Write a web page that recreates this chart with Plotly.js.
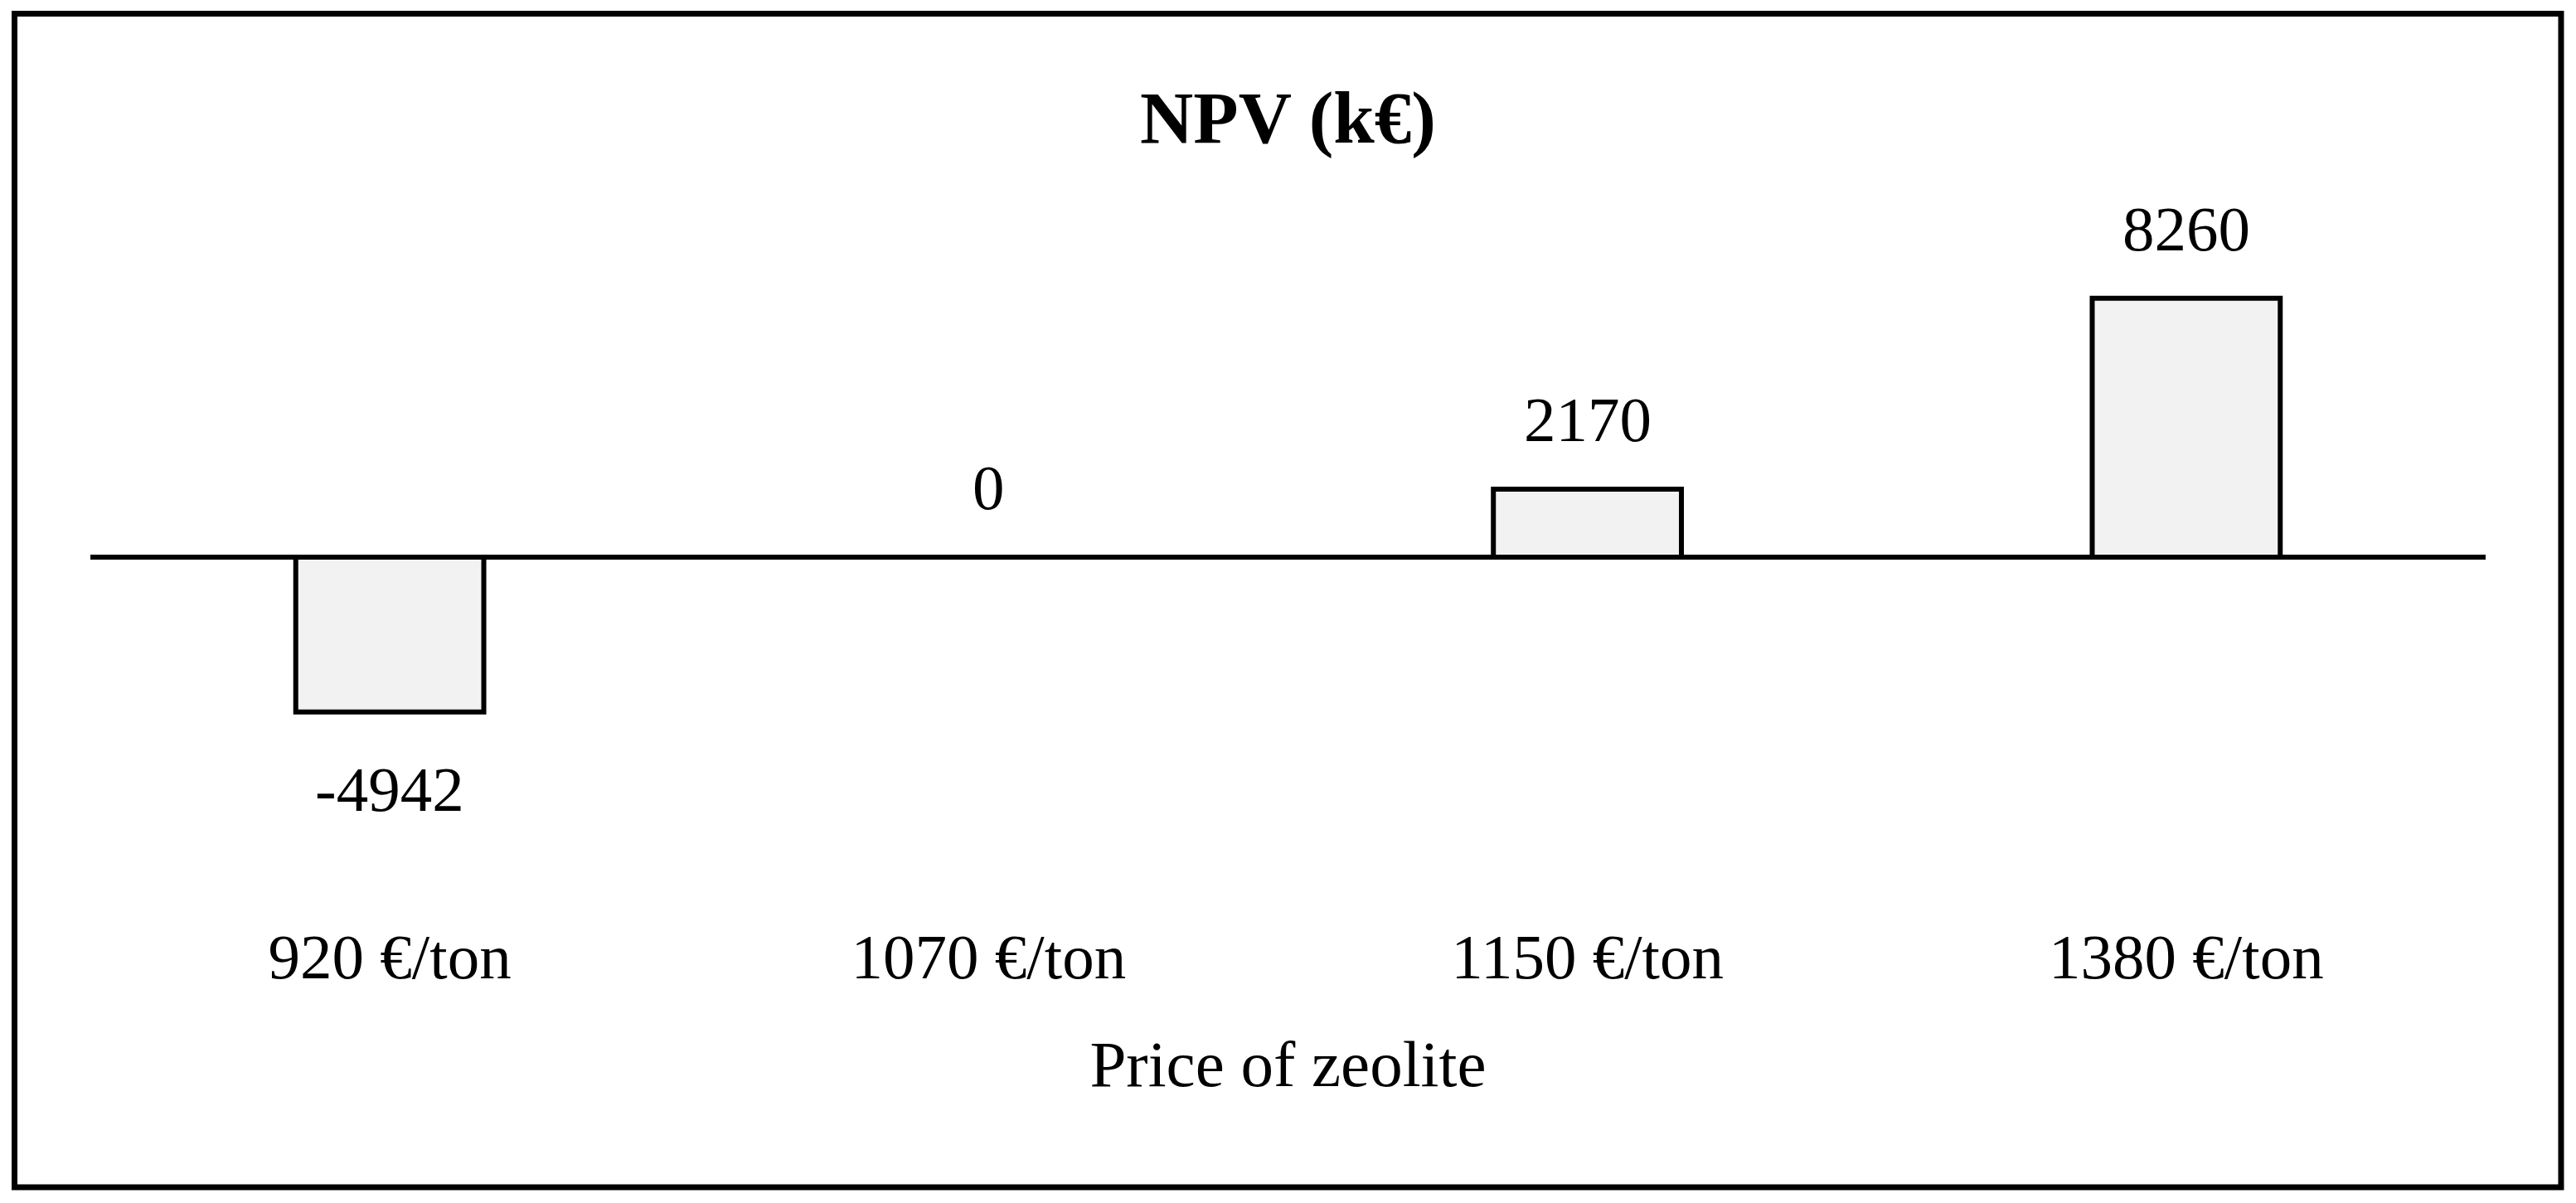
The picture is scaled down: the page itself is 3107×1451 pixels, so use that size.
<!DOCTYPE html>
<html>
<head>
<meta charset="utf-8">
<script src="https://cdn.plot.ly/plotly-3.0.1.min.js"></script>
<style>
  html, body { margin: 0; padding: 0; background: #ffffff; }
  #chart { width: 3107px; height: 1451px; }
</style>
</head>
<body>
<div id="chart"></div>
<script>
// Data
const categories = ["920 €/ton", "1070 €/ton", "1150 €/ton", "1380 €/ton"];
const npvValues = [-4942, 0, 2170, 8260];
const valueLabels = ["-4942", "0", "2170", "8260"];
const chartTitle = "NPV (k€)";
const xAxisTitle = "Price of zeolite";

const W = 3107, H = 1451;
const margin = { l: 109, r: 109, t: 200, b: 349 };
const plotW = W - margin.l - margin.r;
const plotH = H - margin.t - margin.b;

// frame in pixel coords -> paper coords
function px2paperX(px) { return (px - margin.l) / plotW; }
function px2paperY(py) { return (H - margin.b - py) / plotH; }

const serif = "Liberation Serif, Times New Roman, serif";

const trace = {
  type: "bar",
  x: categories,
  y: npvValues,
  width: 0.314,
  marker: { color: "#f2f2f2", line: { color: "#000000", width: 6 } },
  hoverinfo: "skip"
};

const annotations = categories.map((c, i) => ({
  x: c,
  y: npvValues[i],
  xref: "x",
  yref: "y",
  text: valueLabels[i],
  showarrow: false,
  xanchor: "center",
  yanchor: "middle",
  yshift: npvValues[i] < 0 ? -93 : 84,
  font: { family: serif, size: 77, color: "#000000" }
}));

const layout = {
  width: W,
  height: H,
  margin: margin,
  paper_bgcolor: "#ffffff",
  plot_bgcolor: "#ffffff",
  showlegend: false,
  title: {
    text: chartTitle,
    font: { family: serif, size: 89, color: "#000000", weight: "bold" },
    x: 0.5, xref: "container", xanchor: "center",
    y: 1 - 141 / H, yref: "container", yanchor: "middle"
  },
  xaxis: {
    type: "category",
    range: [-0.5, 3.5],
    showgrid: false,
    showline: false,
    zeroline: false,
    ticks: "",
    tickfont: { family: serif, size: 77, color: "#000000" },
    ticklabelstandoff: 0,
    title: {
      text: xAxisTitle,
      font: { family: serif, size: 79, color: "#000000" },
      standoff: 58
    },
    fixedrange: true
  },
  yaxis: {
    range: [-(H - margin.b - 672) / 0.0378, (672 - margin.t) / 0.0378],
    showgrid: false,
    showline: false,
    showticklabels: false,
    ticks: "",
    zeroline: true,
    zerolinecolor: "#000000",
    zerolinewidth: 6,
    fixedrange: true
  },
  annotations: annotations,
  shapes: [{
    type: "rect",
    xref: "paper", yref: "paper",
    x0: px2paperX(17.5), x1: px2paperX(3089),
    y0: px2paperY(1432), y1: px2paperY(16.5),
    line: { color: "#000000", width: 7 },
    fillcolor: "rgba(0,0,0,0)",
    layer: "above"
  }]
};

Plotly.newPlot("chart", [trace], layout, { displayModeBar: false, staticPlot: true });
</script>
</body>
</html>
